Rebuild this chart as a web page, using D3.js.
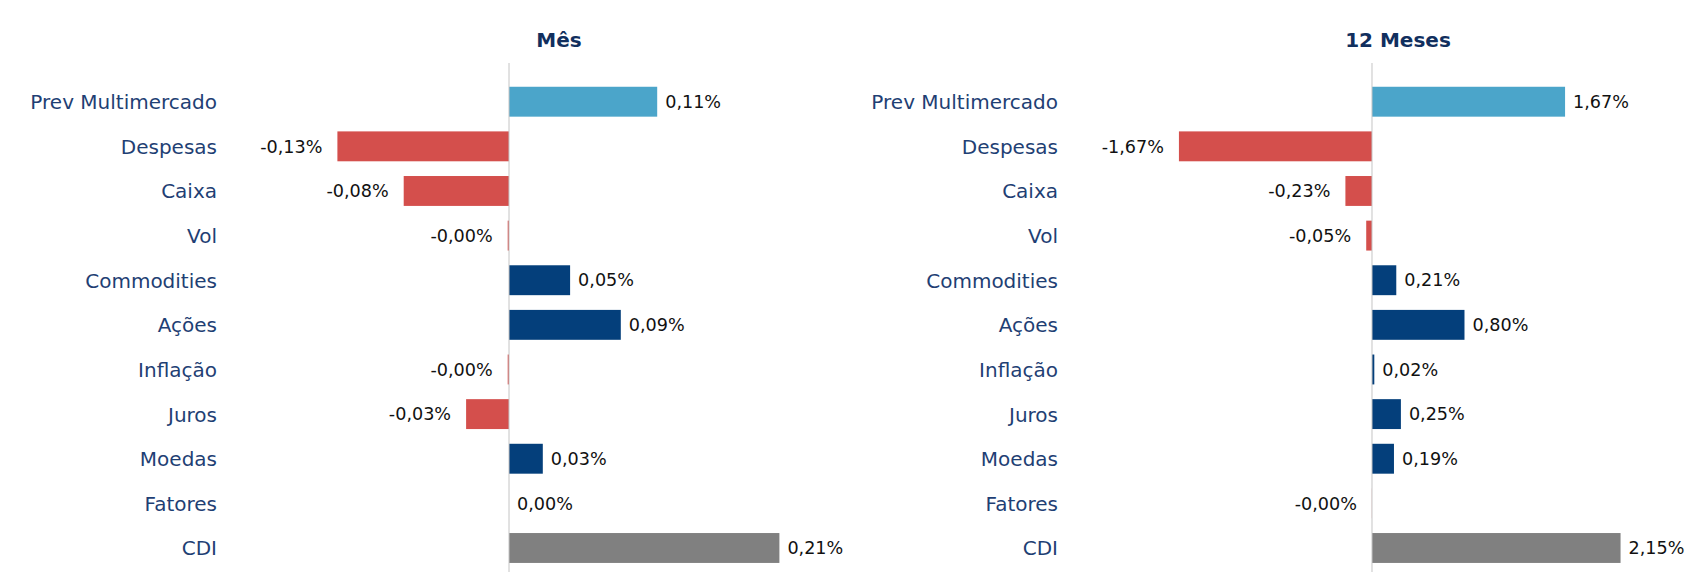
<!DOCTYPE html>
<html>
<head>
<meta charset="utf-8">
<script src="https://cdn.jsdelivr.net/npm/d3@7"></script>
<style>
  html, body { margin: 0; padding: 0; background: #ffffff; }
  svg { display: block; }
</style>
</head>
<body>
<svg id="chart" width="1687" height="572"></svg>
<script>
// ---- data ----
const categories = ["Prev Multimercado", "Despesas", "Caixa", "Vol", "Commodities", "Ações", "Inflação", "Juros", "Moedas", "Fatores", "CDI"];
const mesValues = [0.114, -0.132, -0.081, -0.001, 0.047, 0.086, -0.001, -0.033, 0.026, 0.000, 0.208];
const dozeValues = [1.67, -1.67, -0.23, -0.05, 0.21, 0.80, 0.02, 0.25, 0.19, -0.001, 2.15];
const panelTitles = ["Mês", "12 Meses"];

// ---- styling ----
const colTotal = "#4BA5CA", colNeg = "#D44F4C", colPos = "#043F7B", colCdi = "#808080";
const labelColor = "#1F3F74", titleColor = "#112F5E";
const font = "'DejaVu Sans', Verdana, sans-serif";

const svg = d3.select("#chart");

const y = d3.scaleBand()
  .domain(categories)
  .range([79.4, 570.3])
  .paddingInner(0.33)
  .paddingOuter(0.165);

function fmt(v) {
  const s = v < 0 ? "-" : "";
  return s + Math.abs(v).toFixed(2).replace(".", ",") + "%";
}
function barColor(cat, v) {
  if (cat === "Prev Multimercado") return colTotal;
  if (cat === "CDI") return colCdi;
  return v < 0 ? colNeg : colPos;
}

const panels = [
  { title: panelTitles[0], values: mesValues, domain: [-0.15, 0.22], range: [314, 795], labelX: 217, titleX: 559 },
  { title: panelTitles[1], values: dozeValues, domain: [-1.8, 2.3], range: [1163.9, 1637.9], labelX: 1058, titleX: 1398 }
];

panels.forEach(p => {
  const x = d3.scaleLinear().domain(p.domain).range(p.range);
  const g = svg.append("g");
  const data = categories.map((c, i) => ({ c, v: p.values[i] }));

  // title
  g.append("text")
    .attr("x", p.titleX).attr("y", 46.7)
    .attr("text-anchor", "middle")
    .attr("font-family", font).attr("font-size", 20).attr("font-weight", "bold")
    .attr("fill", titleColor)
    .text(p.title);

  // category labels
  g.selectAll("text.cat").data(data).join("text")
    .attr("class", "cat")
    .attr("x", p.labelX)
    .attr("y", d => y(d.c) + y.bandwidth() / 2)
    .attr("dy", "0.37em")
    .attr("text-anchor", "end")
    .attr("font-family", font).attr("font-size", 20)
    .attr("fill", labelColor)
    .text(d => d.c);

  // bars
  g.selectAll("rect.bar").data(data).join("rect")
    .attr("class", "bar")
    .attr("x", d => Math.min(x(0), x(d.v)))
    .attr("y", d => y(d.c))
    .attr("width", d => Math.abs(x(d.v) - x(0)))
    .attr("height", y.bandwidth())
    .attr("fill", d => barColor(d.c, d.v));

  // zero axis line
  g.append("line")
    .attr("x1", x(0)).attr("x2", x(0))
    .attr("y1", 63).attr("y2", 572)
    .attr("stroke", "#C4C4C4").attr("stroke-width", 1);

  // value labels
  g.selectAll("text.val").data(data).join("text")
    .attr("class", "val")
    .attr("x", d => d.v < 0 ? x(d.v) - 15 : x(d.v) + 8)
    .attr("y", d => y(d.c) + y.bandwidth() / 2)
    .attr("dy", "0.35em")
    .attr("text-anchor", d => d.v < 0 ? "end" : "start")
    .attr("font-family", font).attr("font-size", 17.6)
    .attr("fill", "#111111")
    .text(d => fmt(d.v));
});
</script>
</body>
</html>
